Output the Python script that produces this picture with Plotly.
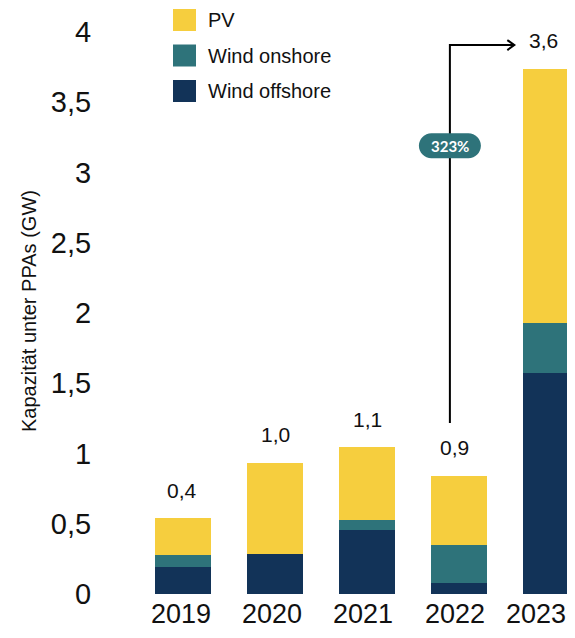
import plotly.graph_objects as go

years = ["2019", "2020", "2021", "2022", "2023"]
offshore = [0.19, 0.285, 0.455, 0.08, 1.57]
onshore = [0.09, 0.0, 0.07, 0.27, 0.36]
pv = [0.26, 0.65, 0.52, 0.49, 1.81]
total_labels = ["0,4", "1,0", "1,1", "0,9", "3,6"]
ytick_vals = [0, 0.5, 1, 1.5, 2, 2.5, 3, 3.5, 4]
ytick_text = ["0", "0,5", "1", "1,5", "2", "2,5", "3", "3,5", "4"]
growth_label = "323%"

C_PV = "#F6CE3E"
C_ON = "#2E737A"
C_OFF = "#123358"
FONT = "Liberation Sans, Arial, sans-serif"

# the page has an 8px body margin on every side; keep the figure (and all its
# text) inside the 575x638 window and lay it out in page pixels
OFF = 8
W, H = 575 - 2 * OFF, 638 - 2 * OFF
PLOT_LEFT, PLOT_BOTTOM = 140 - OFF, 594 - OFF   # figure pixels
ML, MR, MT = PLOT_LEFT, 0, 0
MB = H - PLOT_BOTTOM
PW, PH = W - ML - MR, PLOT_BOTTOM - MT
PX_PER_CAT = 92.03
PX_PER_UNIT = 140.5
X0_PAGE = 183  # page x of the first category centre

def px2paper_x(px_page):
    return (px_page - OFF - ML) / PW

def px2paper_y(py_page):
    return (PLOT_BOTTOM - (py_page - OFF)) / PH

x_lo = -(X0_PAGE - 140) / PX_PER_CAT
x_hi = x_lo + PW / PX_PER_CAT

fig = go.Figure()
for name, vals, col in [("Wind offshore", offshore, C_OFF),
                        ("Wind onshore", onshore, C_ON),
                        ("PV", pv, C_PV)]:
    fig.add_trace(go.Bar(x=years, y=vals, name=name, marker_color=col,
                         marker_line_width=0, width=0.61, showlegend=False))

totals = [a + b + c for a, b, c in zip(offshore, onshore, pv)]
label_xshift = [-1, 0, 0, -5, -8]
for i, (t, lab) in enumerate(zip(totals, total_labels)):
    fig.add_annotation(x=i, y=t, text=lab, showarrow=False, yshift=28,
                       xshift=label_xshift[i],
                       font=dict(family=FONT, size=21, color="#111"))

# category labels (as annotations so the last one stays inside the window)
year_xshift = [-2, -3, -4, -4, -15]
for i, yr in enumerate(years):
    fig.add_annotation(x=i, xref="x", y=0, yref="paper", yanchor="bottom",
                       yshift=-MB, xshift=year_xshift[i], borderpad=0,
                       text=yr, showarrow=False,
                       font=dict(family=FONT, size=27, color="#111"))

# growth arrow: from above 2022 up and across to the 2023 label
xl = 2.90
y_bot = 1.217
y_top = 3.907
x_tip = 3.60
fig.add_shape(type="path", xref="x", yref="y",
              path=f"M{xl},{y_bot} L{xl},{y_top} L{x_tip},{y_top}",
              line=dict(color="#000", width=2))
fig.add_shape(type="path", xref="x", yref="y", xsizemode="pixel", ysizemode="pixel",
              xanchor=x_tip, yanchor=y_top,
              path="M-7,5 L0,0 L-7,-5", line=dict(color="#000", width=2))
# pill
pill_y = 3.19
fig.add_shape(type="path", xref="x", yref="y", xsizemode="pixel", ysizemode="pixel",
              xanchor=xl, yanchor=pill_y,
              path=("M-18.5,12.5 L18.5,12.5 C25.4,12.5 31,6.9 31,0 C31,-6.9 25.4,-12.5 18.5,-12.5 "
                    "L-18.5,-12.5 C-25.4,-12.5 -31,-6.9 -31,0 C-31,6.9 -25.4,12.5 -18.5,12.5 Z"),
              fillcolor=C_ON, line=dict(width=0))
fig.add_annotation(x=xl, y=pill_y, text=f"<b>{growth_label}</b>", showarrow=False,
                   font=dict(family="Lato, Open Sans, sans-serif", size=15, color="white"))

# manual legend (page pixel positions)
legend_items = [("PV", C_PV), ("Wind onshore", C_ON), ("Wind offshore", C_OFF)]
for k, (name, col) in enumerate(legend_items):
    top = 9 + 35.5 * k
    fig.add_shape(type="rect", xref="paper", yref="paper",
                  x0=px2paper_x(173), x1=px2paper_x(196),
                  y0=px2paper_y(top), y1=px2paper_y(top + 22),
                  fillcolor=col, line=dict(width=0))
    fig.add_annotation(xref="paper", yref="paper", x=px2paper_x(206),
                       y=px2paper_y(top + 11), text=name, showarrow=False,
                       xanchor="left", yanchor="middle",
                       font=dict(family=FONT, size=20, color="#111"))

# y title
fig.add_annotation(xref="paper", yref="paper", x=px2paper_x(16), y=px2paper_y(311),
                   text="Kapazität unter PPAs (GW)", textangle=-90, showarrow=False,
                   font=dict(family=FONT, size=20, color="#111"))

fig.update_layout(
    barmode="stack", width=W, height=H,
    margin=dict(l=ML, r=MR, t=MT, b=MB),
    plot_bgcolor="white", paper_bgcolor="white",
    xaxis=dict(range=[x_lo, x_hi], showgrid=False, showline=False, zeroline=False,
               showticklabels=False, ticks=""),
    yaxis=dict(range=[0, PH / PX_PER_UNIT], showgrid=False, showline=False, zeroline=False,
               tickvals=ytick_vals, ticktext=ytick_text,
               ticks="outside", ticklen=42, tickcolor="rgba(0,0,0,0)",
               tickfont=dict(family=FONT, size=29, color="#111")),
)

fig.write_html("out.html")
